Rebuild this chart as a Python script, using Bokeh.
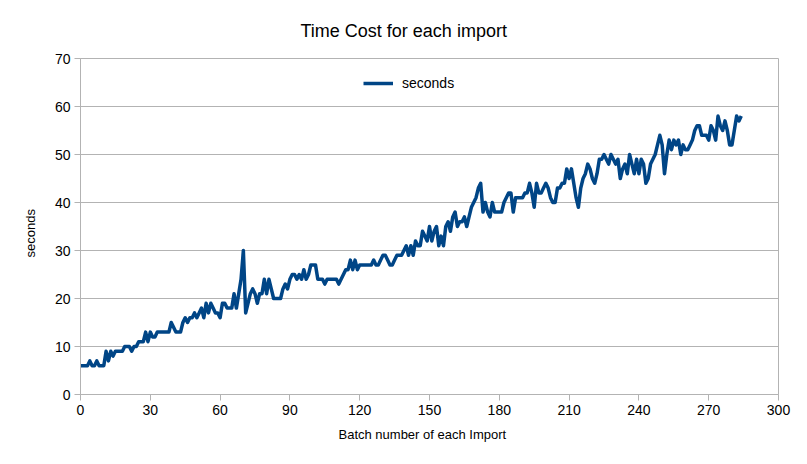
from bokeh.plotting import figure
from bokeh.models import FixedTicker, Range1d, Title
from bokeh.embed import file_html
from bokeh.resources import INLINE

seconds = [
    6, 6, 6, 6, 7, 6, 6, 7, 6, 6,
    6, 9, 7, 9, 8, 9, 9, 9, 9, 10,
    10, 10, 9, 10, 10, 11, 11, 11, 13, 11,
    13, 12, 12, 13, 13, 13, 13, 13, 13, 15,
    14, 13, 13, 13, 15, 16, 15, 16, 16, 17,
    16, 17, 18, 16, 19, 17, 19, 18, 17, 17,
    16, 19, 19, 18, 18, 18, 21, 18, 21, 24,
    30, 17, 19, 21, 22, 21, 19, 21, 21, 24,
    21, 24, 22, 20, 20, 20, 20, 22, 23, 22,
    24, 25, 25, 24, 25, 24, 26, 24, 25, 27,
    27, 27, 24, 24, 24, 23, 24, 24, 24, 24,
    24, 23, 24, 25, 26, 26, 28, 26, 28, 26,
    27, 27, 27, 27, 27, 27, 28, 27, 27, 28,
    29, 29, 28, 27, 27, 28, 29, 29, 29, 30,
    31, 29, 31, 29, 32, 31, 31, 34, 33, 32,
    35, 32, 34, 35, 31, 33, 31, 35, 36, 34,
    37, 38, 35, 36, 36, 37, 35, 37, 39, 40,
    41, 43, 44, 38, 40, 38, 37, 40, 38, 38,
    38, 38, 40, 41, 42, 42, 38, 41, 41, 41,
    41, 42, 42, 44, 42, 39, 44, 42, 42, 43,
    44, 43, 41, 40, 40, 43, 43, 44, 44, 47,
    45, 47, 44, 41, 39, 43, 45, 46, 48, 47,
    45, 44, 46, 49, 49, 50, 49, 48, 50, 49,
    48, 49, 45, 47, 48, 46, 50, 48, 46, 49,
    46, 49, 48, 44, 45, 48, 49, 50, 52, 54,
    52, 46, 50, 53, 51, 53, 52, 53, 50, 52,
    51, 51, 52, 53, 55, 56, 56, 54, 54, 54,
    53, 56, 55, 53, 58, 56, 55, 57, 55, 52,
    52, 55, 58, 57, 58,
]
batch = list(range(len(seconds)))

x_ticks = [0, 30, 60, 90, 120, 150, 180, 210, 240, 270, 300]
y_ticks = [0, 10, 20, 30, 40, 50, 60, 70]

FONT = "Liberation Sans"
GRID = "#b3b3b3"
LINE = "#004586"

p = figure(width=791, height=448, output_backend="svg", toolbar_location=None,
           x_range=Range1d(0, 300), y_range=Range1d(0, 70),
           min_border_left=80, min_border_right=13, min_border_top=58, min_border_bottom=53,
           title="Time Cost for each import")

p.line(batch, seconds, line_color=LINE, line_width=3.5, line_join="round",
       legend_label="seconds")

p.title.align = "left"
p.title.offset = 220
p.title.text_font = FONT
p.title.text_font_size = "18px"
p.title.text_font_style = "normal"
p.title.text_color = "#000000"
p.title.standoff = 35

p.outline_line_color = GRID
p.xgrid.visible = False
p.ygrid.grid_line_color = GRID
p.ygrid.ticker = FixedTicker(ticks=y_ticks)

p.xaxis.ticker = FixedTicker(ticks=x_ticks)
p.yaxis.ticker = FixedTicker(ticks=y_ticks)
for ax in (p.xaxis[0], p.yaxis[0]):
    ax.axis_line_color = GRID
    ax.major_tick_line_color = GRID
    ax.minor_tick_line_color = None
    ax.major_tick_in = 0
    ax.major_tick_out = 6
    ax.major_label_text_font = FONT
    ax.major_label_text_font_size = "14px"
    ax.major_label_text_color = "#000000"
    ax.major_label_standoff = 4

xlabel = Title(text="Batch number of each Import", align="left", offset=258,
               text_font=FONT, text_font_size="13px", text_font_style="normal",
               text_color="#000000", standoff=14)
p.add_layout(xlabel, "below")

ylabel = Title(text="seconds", align="left", offset=137,
               text_font=FONT, text_font_size="13px", text_font_style="normal",
               text_color="#000000", standoff=28)
p.add_layout(ylabel, "left")

lg = p.legend[0]
lg.location = (283, 301)
lg.border_line_color = None
lg.background_fill_alpha = 0
lg.padding = 0
lg.margin = 0
lg.glyph_width = 30
lg.label_standoff = 9
lg.label_text_font = FONT
lg.label_text_font_size = "14px"
lg.label_text_color = "#000000"

open("out.html", "w").write(file_html(p, INLINE))
